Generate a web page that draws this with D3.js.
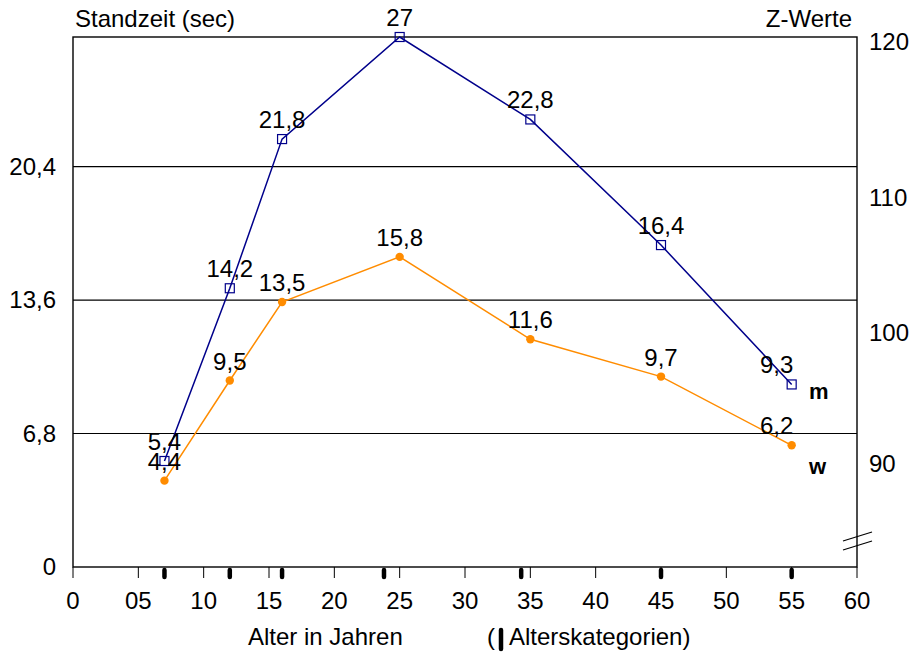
<!DOCTYPE html>
<html><head><meta charset="utf-8">
<script src="https://cdn.jsdelivr.net/npm/d3@7"></script>
<style>body{margin:0;background:#fff}svg{display:block}text{font-family:"Liberation Sans",Arial,sans-serif;fill:#000}</style>
</head><body><svg id="c" width="917" height="657"></svg>
<script>
const ages = [7, 12, 16, 25, 35, 45, 55];
const mValues = [5.4, 14.2, 21.8, 27, 22.8, 16.4, 9.3];
const wValues = [4.4, 9.5, 13.5, 15.8, 11.6, 9.7, 6.2];
const mLabels = ["5,4","14,2","21,8","27","22,8","16,4","9,3"];
const wLabels = ["4,4","9,5","13,5","15,8","11,6","9,7","6,2"];
const xTicks = [0,5,10,15,20,25,30,35,40,45,50,55,60];
const xTickLabels = ["0","05","10","15","20","25","30","35","40","45","50","55","60"];
const categoryTicks = [7, 12, 16, 23.8, 34.3, 45, 55];
const yTicks = [0, 6.8, 13.6, 20.4];
const yTickLabels = ["0","6,8","13,6","20,4"];
const zTicks = [90, 100, 110, 120];
const zInLeftUnits = [5.25, 11.9, 18.8, 26.75];

const svg = d3.select("#c");
const L = 73, R = 857, T = 37, B = 567;
const x = d3.scaleLinear().domain([0, 60]).range([L, R]);
const y = d3.scaleLinear().domain([0, 27]).range([B, T]);
const z = d3.scaleLinear().domain(zTicks).range(zInLeftUnits);
const FS = 24;

// grid lines
svg.append("g").selectAll("line").data(yTicks.slice(1)).join("line")
  .attr("x1", L).attr("x2", R).attr("y1", d => y(d)).attr("y2", d => y(d))
  .attr("stroke", "#000").attr("stroke-width", 1.2);

// frame
svg.append("rect").attr("x", L).attr("y", T).attr("width", R - L).attr("height", B - T)
  .attr("fill", "none").attr("stroke", "#000").attr("stroke-width", 1.4);

// x axis ticks
const xa = svg.append("g");
xa.selectAll("line").data(xTicks).join("line")
  .attr("x1", d => x(d)).attr("x2", d => x(d)).attr("y1", B).attr("y2", B + 11)
  .attr("stroke", "#000").attr("stroke-width", 1);
xa.selectAll("text").data(xTicks).join("text")
  .attr("x", d => x(d)).attr("y", 609).attr("text-anchor", "middle")
  .attr("font-size", FS).text((d, i) => xTickLabels[i]);

// category ticks
svg.append("g").selectAll("line").data(categoryTicks).join("line")
  .attr("x1", d => x(d)).attr("x2", d => x(d)).attr("y1", B + 3).attr("y2", B + 10)
  .attr("stroke", "#000").attr("stroke-width", 4.5).attr("stroke-linecap", "round");

// left labels
svg.append("g").selectAll("text").data(yTicks).join("text")
  .attr("x", 56).attr("y", d => y(d) + 8).attr("text-anchor", "end")
  .attr("font-size", FS).text((d, i) => yTickLabels[i]);

// right labels
svg.append("g").selectAll("text").data(zTicks).join("text")
  .attr("x", 869).attr("y", d => y(z(d)) + 8).attr("text-anchor", "start")
  .attr("font-size", FS).text(d => d);

// break marks
const br = svg.append("g").attr("stroke", "#000").attr("stroke-width", 1.2);
br.append("line").attr("x1", 843).attr("y1", 541).attr("x2", 872).attr("y2", 532);
br.append("line").attr("x1", 843).attr("y1", 550).attr("x2", 872).attr("y2", 541);

// titles
svg.append("text").attr("x", 75).attr("y", 27).attr("font-size", FS).text("Standzeit (sec)");
svg.append("text").attr("x", 852).attr("y", 27).attr("text-anchor", "end").attr("font-size", FS).text("Z-Werte");
svg.append("text").attr("x", 248).attr("y", 645).attr("font-size", FS).text("Alter in Jahren");
svg.append("text").attr("x", 487).attr("y", 645).attr("font-size", FS).text("(");
svg.append("line").attr("x1", 501).attr("x2", 501).attr("y1", 630).attr("y2", 649)
  .attr("stroke", "#000").attr("stroke-width", 4.5).attr("stroke-linecap", "round");
svg.append("text").attr("x", 509).attr("y", 645).attr("font-size", FS).text("Alterskategorien)");

const line = d3.line().x(d => x(d[0])).y(d => y(d[1]));
const blue = "#00008B", orange = "#FF8C00";
const mData = ages.map((a, i) => [a, mValues[i]]);
const wData = ages.map((a, i) => [a, wValues[i]]);

svg.append("path").datum(wData).attr("d", line).attr("fill", "none").attr("stroke", orange).attr("stroke-width", 1.5);
svg.append("path").datum(mData).attr("d", line).attr("fill", "none").attr("stroke", blue).attr("stroke-width", 1.5);

svg.append("g").selectAll("circle").data(wData).join("circle")
  .attr("cx", d => x(d[0])).attr("cy", d => y(d[1])).attr("r", 4.2).attr("fill", orange);
svg.append("g").selectAll("rect").data(mData).join("rect")
  .attr("x", d => x(d[0]) - 4.5).attr("y", d => y(d[1]) - 4.5).attr("width", 9).attr("height", 9)
  .attr("fill", "none").attr("stroke", blue).attr("stroke-width", 1.2);

// point labels
const last = ages.length - 1;
svg.append("g").selectAll("text").data(mData).join("text")
  .attr("x", (d, i) => x(d[0]) + (i === last ? -15 : 0)).attr("y", d => y(d[1]) - 11)
  .attr("text-anchor", "middle").attr("font-size", FS).text((d, i) => mLabels[i]);
svg.append("g").selectAll("text").data(wData).join("text")
  .attr("x", (d, i) => x(d[0]) + (i === last ? -15 : 0)).attr("y", d => y(d[1]) - 11)
  .attr("text-anchor", "middle").attr("font-size", FS).text((d, i) => wLabels[i]);

// series tags
svg.append("text").attr("x", x(55) + 27).attr("y", y(mValues[last]) + 15).attr("text-anchor", "middle")
  .attr("font-size", 22).attr("font-weight", "bold").text("m");
svg.append("text").attr("x", x(55) + 26).attr("y", y(wValues[last]) + 29).attr("text-anchor", "middle")
  .attr("font-size", 22).attr("font-weight", "bold").text("w");
</script></body></html>
